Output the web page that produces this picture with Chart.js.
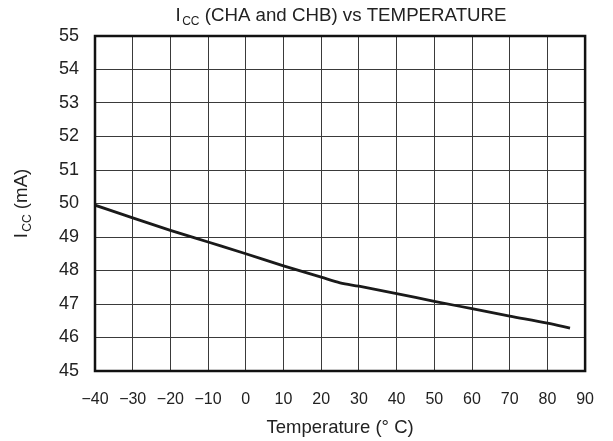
<!DOCTYPE html>
<html><head><meta charset="utf-8">
<script src="https://cdn.jsdelivr.net/npm/chart.js@4"></script>
<style>html,body{margin:0;padding:0;background:#fff}#wrap{width:613px;height:441px}</style>
</head><body><div id="wrap"><canvas id="c" width="613" height="441"></canvas></div>
<script>
const temperatures = [-40, -30, -20, -10, 0, 10, 20, 25, 30, 40, 50, 60, 70, 80, 86];
const iccValues = [49.95, 49.57, 49.2, 48.85, 48.5, 48.14, 47.8, 47.63, 47.53, 47.31, 47.08, 46.86, 46.64, 46.43, 46.28];
const xTicks = [-40, -30, -20, -10, 0, 10, 20, 30, 40, 50, 60, 70, 80, 90];
const yTicks = [45, 46, 47, 48, 49, 50, 51, 52, 53, 54, 55];
const titleMain = ['I', 'CC', ' (CHA and CHB) vs TEMPERATURE'];
const yTitle = ['I', 'CC', ' (mA)'];
const xTitle = 'Temperature (\u00B0 C)';

const FONT = 'Liberation Sans, Arial, sans-serif';

function drawSub(ctx, parts, size, cx, cy) {
  const big = size + 'px ' + FONT, small = Math.round(size * 0.64) + 'px ' + FONT;
  ctx.font = big; const w0 = ctx.measureText(parts[0]).width;
  const w2 = ctx.measureText(parts[2]).width;
  ctx.font = small; const w1 = ctx.measureText(parts[1]).width;
  const gap = size * 0.08;
  let x = cx - (w0 + gap + w1 + w2) / 2;
  ctx.textBaseline = 'middle'; ctx.textAlign = 'left';
  ctx.font = big; ctx.fillText(parts[0], x, cy); x += w0 + gap;
  ctx.font = small; ctx.fillText(parts[1], x, cy + size * 0.33); x += w1;
  ctx.font = big; ctx.fillText(parts[2], x, cy);
}

const deco = {
  id: 'deco',
  afterDatasetsDraw(chart) {
    const ctx = chart.ctx, a = chart.chartArea;
    ctx.save();
    ctx.strokeStyle = '#111'; ctx.lineWidth = 2.5;
    ctx.strokeRect(a.left, a.top, a.right - a.left, a.bottom - a.top);
    ctx.fillStyle = '#222';
    drawSub(ctx, titleMain, 18.7, 341, 16);
    ctx.translate(22, (a.top + a.bottom) / 2);
    ctx.rotate(-Math.PI / 2);
    drawSub(ctx, yTitle, 18.7, 0, 0);
    ctx.restore();
    ctx.save();
    ctx.fillStyle = '#222'; ctx.font = '18.5px ' + FONT;
    ctx.textAlign = 'center'; ctx.textBaseline = 'middle';
    ctx.fillText(xTitle, (a.left + a.right) / 2, 428);
    ctx.restore();
  }
};

new Chart(document.getElementById('c'), {
  type: 'line',
  data: {
    datasets: [{
      data: temperatures.map((t, i) => ({x: t, y: iccValues[i]})),
      borderColor: '#1a1a1a', borderWidth: 2.8, pointRadius: 0,
      cubicInterpolationMode: 'monotone', fill: false
    }]
  },
  options: {
    responsive: false, animation: false,
    layout: {padding: {top: 36, right: 21, left: 0, bottom: 0}},
    plugins: {legend: {display: false}, tooltip: {enabled: false}},
    scales: {
      x: {
        type: 'linear', min: xTicks[0], max: xTicks[xTicks.length - 1],
        afterBuildTicks: s => { s.ticks = xTicks.map(v => ({value: v})); },
        afterFit: s => { s.height = 70; },
        grid: {color: '#3a3a3a', lineWidth: 1, drawTicks: false},
        border: {display: false},
        ticks: {padding: 19, color: '#222', font: {family: FONT, size: 16}, maxRotation: 0,
          callback: v => String(v).replace('-', '\u2212')}
      },
      y: {
        type: 'linear', min: yTicks[0], max: yTicks[yTicks.length - 1],
        afterBuildTicks: s => { s.ticks = yTicks.map(v => ({value: v})); },
        afterFit: s => { s.width = 95; },
        grid: {color: '#3a3a3a', lineWidth: 1, drawTicks: false},
        border: {display: false},
        ticks: {padding: 16, color: '#222', font: {family: FONT, size: 18}}
      }
    }
  },
  plugins: [deco]
});
</script></body></html>
